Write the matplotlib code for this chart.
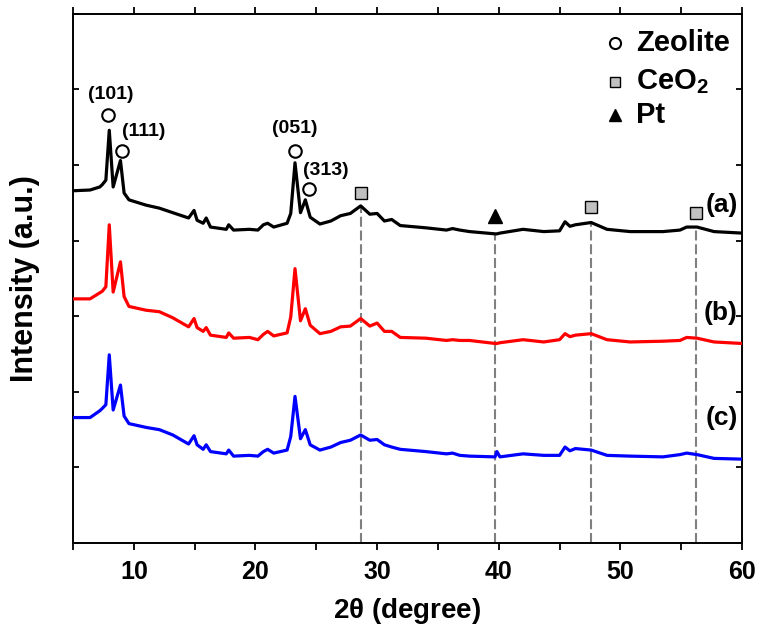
import numpy as np
import matplotlib
matplotlib.use('Agg')
import matplotlib.pyplot as plt

plt.rcParams['font.family'] = ['Liberation Sans', 'DejaVu Sans']
plt.rcParams['font.weight'] = 'bold'
plt.rcParams['mathtext.fontset'] = 'custom'
plt.rcParams['mathtext.rm'] = 'Liberation Sans:bold'
plt.rcParams['mathtext.it'] = 'Liberation Sans:bold'
plt.rcParams['mathtext.bf'] = 'Liberation Sans:bold'

# 2theta grid (degree) and offset intensities
two_theta = [5.0, 6.4, 7.2, 7.4, 7.7, 7.98, 8.3, 8.9, 9.2, 9.6, 11.0, 12.1, 13.2,
             14.5, 14.95, 15.2, 15.7, 15.95, 16.3, 17.6, 17.8, 18.2, 19.5, 20.2,
             20.65, 21.0, 21.5, 22.6, 22.9, 23.25, 23.7, 24.1, 24.5, 25.3, 26.2,
             27.0, 27.8, 28.65, 29.4, 30.0, 30.6, 31.2, 31.9, 34.0, 35.7, 36.2,
             36.8, 37.6, 39.7, 39.85, 40.1, 42.0, 43.7, 45.0, 45.45, 45.85, 46.3,
             47.6, 48.9, 50.8, 53.5, 54.9, 55.45, 56.3, 57.7, 60.0]

int_a = [4.66, 4.67, 4.71, 4.74, 4.80, 5.46, 4.71, 5.06, 4.63, 4.54, 4.47, 4.43, 4.37,
         4.30, 4.40, 4.27, 4.23, 4.30, 4.18, 4.15, 4.21, 4.14, 4.15, 4.14,
         4.21, 4.23, 4.18, 4.23, 4.36, 5.03, 4.37, 4.54, 4.31, 4.22, 4.26,
         4.33, 4.36, 4.46, 4.35, 4.36, 4.26, 4.28, 4.20, 4.17, 4.14, 4.16,
         4.14, 4.12, 4.09, 4.09, 4.10, 4.15, 4.12, 4.13, 4.25, 4.19, 4.21,
         4.24, 4.15, 4.12, 4.12, 4.14, 4.18, 4.18, 4.12, 4.10]

int_b = [3.23, 3.23, 3.31, 3.33, 3.39, 4.21, 3.32, 3.72, 3.26, 3.13, 3.08, 3.06, 2.98,
         2.86, 2.97, 2.85, 2.80, 2.85, 2.75, 2.72, 2.78, 2.71, 2.72, 2.69,
         2.76, 2.80, 2.74, 2.78, 2.99, 3.63, 2.94, 3.10, 2.88, 2.77, 2.80,
         2.86, 2.87, 2.97, 2.87, 2.91, 2.80, 2.80, 2.72, 2.71, 2.68, 2.69,
         2.68, 2.68, 2.64, 2.64, 2.65, 2.69, 2.66, 2.69, 2.77, 2.73, 2.75,
         2.77, 2.69, 2.66, 2.67, 2.68, 2.72, 2.71, 2.66, 2.64]

int_c = [1.66, 1.66, 1.75, 1.78, 1.83, 2.49, 1.76, 2.09, 1.68, 1.58, 1.53, 1.50, 1.43,
         1.31, 1.42, 1.30, 1.24, 1.30, 1.21, 1.18, 1.23, 1.15, 1.16, 1.15,
         1.21, 1.24, 1.19, 1.23, 1.41, 1.94, 1.38, 1.50, 1.30, 1.23, 1.27,
         1.33, 1.36, 1.43, 1.36, 1.37, 1.30, 1.27, 1.24, 1.21, 1.18, 1.19,
         1.16, 1.15, 1.14, 1.21, 1.14, 1.18, 1.16, 1.16, 1.27, 1.22, 1.25,
         1.23, 1.16, 1.15, 1.14, 1.17, 1.19, 1.17, 1.12, 1.11]

sample_names = ['(a)', '(b)', '(c)']
sample_colors = ['black', 'red', 'blue']
sample_label_x = [58.3, 58.2, 58.3]
sample_label_y = [4.47, 3.04, 1.65]

# zeolite reflections
zeo_x = [7.9, 9.0, 23.25, 24.4]
zeo_y = [5.66, 5.19, 5.19, 4.68]
hkl = ['(101)', '(111)', '(051)', '(313)']
hkl_x = [8.1, 10.8, 23.25, 25.8]
hkl_y = [5.93, 5.44, 5.49, 4.93]

# CeO2 and Pt reflections
ceo2_x = [28.7, 47.6, 56.2]
ceo2_y = [4.63, 4.44, 4.37]
pt_x = [39.7]
pt_y = [4.33]
dash_x = [28.7, 39.7, 47.6, 56.2]
dash_top = [4.45, 4.08, 4.22, 4.16]

fig = plt.figure(figsize=(7.63, 6.30), dpi=100)
ax = fig.add_axes([0.0957, 0.138, 0.8768, 0.84])

for xv, top in zip(dash_x, dash_top):
    ax.plot([xv, xv], [0, top], color='#808080', lw=1.5,
            linestyle=(0, (4.8, 1.8)), zorder=1)

for ys, c in zip([int_a, int_b, int_c], sample_colors):
    ax.plot(two_theta, ys, color=c, lw=2.3, zorder=3)

for name, lx, ly in zip(sample_names, sample_label_x, sample_label_y):
    ax.text(lx, ly, name, fontsize=19, fontweight='bold', ha='center', va='center')

ax.plot(zeo_x, zeo_y, 'o', ms=9, mfc='white', mec='black', mew=1.5, ls='none', zorder=4)
for t, lx, ly in zip(hkl, hkl_x, hkl_y):
    ax.text(lx, ly, t, fontsize=14, fontweight='bold', ha='center', va='center')

ax.plot(ceo2_x, ceo2_y, 's', ms=8, mfc='#c0c0c0', mec='black', mew=1.0, ls='none', zorder=4)
ax.plot(pt_x, pt_y, '^', ms=10, mfc='black', mec='black', ls='none', zorder=4)

# legend drawn by hand
leg_mark_x = 49.56
leg_text_x = 51.3
leg_y = [6.61, 6.10, 5.66]
leg_text = ['Zeolite', 'CeO$_2$', 'Pt']
ax.plot([leg_mark_x], [leg_y[0]], 'o', ms=8, mfc='white', mec='black', mew=1.5)
ax.plot([leg_mark_x], [leg_y[1]], 's', ms=7, mfc='#c0c0c0', mec='black', mew=1.0)
ax.plot([leg_mark_x], [leg_y[2]], '^', ms=9, mfc='black', mec='black')
for t, ly in zip(leg_text, leg_y):
    ax.text(leg_text_x, ly, t, fontsize=21, fontweight='bold', ha='left', va='center')

ax.set_xlim(5, 60)
ax.set_ylim(0, 7)
ax.set_xticks([10, 20, 30, 40, 50, 60])
ax.set_xticks([5, 15, 25, 35, 45, 55], minor=True)
ax.set_yticks(np.arange(0, 8, 1))
ax.set_yticklabels([])
ax.tick_params(axis='x', which='both', direction='out', length=5, width=1.3,
               labelsize=18, pad=7)
ax.tick_params(axis='y', direction='in', length=4, width=1.3, right=True)
ax.tick_params(axis='x', which='both', top=True)
for lab in ax.get_xticklabels():
    lab.set_fontweight('bold')
for s in ax.spines.values():
    s.set_linewidth(1.4)

ax.set_xlabel(r'2$\theta$ (degree)', fontsize=20, fontweight='bold', labelpad=9)
ax.set_ylabel('Intensity (a.u.)', fontsize=22, fontweight='bold', labelpad=20)

fig.savefig('out.png', dpi=100)
